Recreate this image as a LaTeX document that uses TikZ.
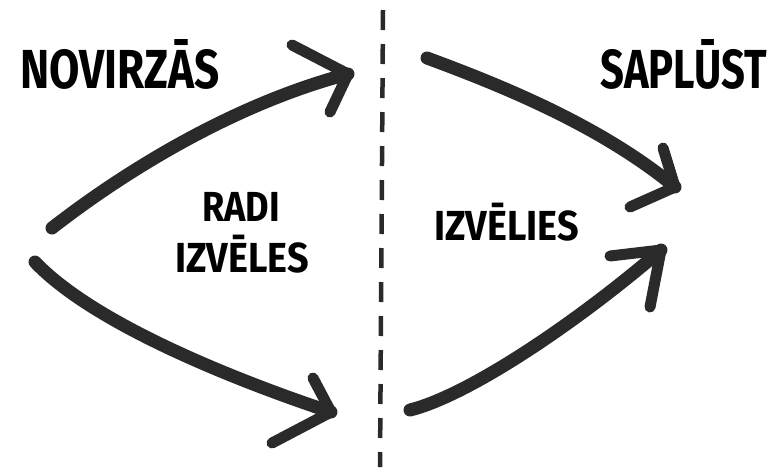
\documentclass[tikz,border=0pt]{standalone}
\usepackage{fontspec}
\setmainfont{Fira Sans}
\definecolor{ink}{HTML}{2A2A2A}
\begin{document}
\begin{tikzpicture}[x=1pt,y=-1pt,
  shaft/.style={draw=ink,line width=13pt,line cap=round},
  barb/.style={draw=ink,line width=11pt,line cap=round,line join=round},
  big/.style={anchor=base west,inner sep=0pt,font=\fontsize{55}{60}\selectfont\bfseries},
  small/.style={anchor=base west,inner sep=0pt,font=\fontsize{42}{48}\selectfont\bfseries},
  divider/.style={draw=ink,line width=4.5pt,dash pattern=on 20pt off 14pt}]
\useasboundingbox (0,0) rectangle (773,467);
% labels
\node[big] (div) at (20,88) {\scalebox{0.8}[1]{NOVIRZĀS}};
\node[big,anchor=base east] (conv) at (767,88) {\scalebox{0.76}[1]{SAPLŪST}};
\node[small] (radi) at (202,221) {\scalebox{0.86}[1]{RADI}};
\node[small] (izv1) at (175,272) {\scalebox{0.9}[1]{IZVĒLES}};
\node[small] (izv2) at (434,240) {\scalebox{0.9}[1]{IZVĒLIES}};
% divider
\coordinate (dtop) at (383,10);
\coordinate (dbot) at (380,467);
\draw[divider] (dtop) -- (dbot);
% arrow 1
\coordinate (a1s) at (52,228);
\coordinate (a1t) at (348,74);
\draw[shaft] (a1s) .. controls (120,175) and (230,105) .. (a1t);
\coordinate (a1b1) at (292,45);
\coordinate (a1b2) at (330,112);
\draw[barb] (a1b1) -- (a1t) -- (a1b2);
% arrow 2
\coordinate (a2s) at (35,262);
\coordinate (a2t) at (331,412);
\draw[shaft] (a2s) .. controls (90,320) and (220,375) .. (a2t);
\coordinate (a2b1) at (313,378);
\coordinate (a2b2) at (272,443);
\draw[barb] (a2b1) -- (a2t) -- (a2b2);
% arrow 3
\coordinate (a3s) at (427,58);
\coordinate (a3t) at (675,187);
\draw[shaft] (a3s) .. controls (500,85) and (600,125) .. (a3t);
\coordinate (a3b1) at (663,148);
\coordinate (a3b2) at (630,207);
\draw[barb] (a3b1) -- (a3t) -- (a3b2);
% arrow 4
\coordinate (a4s) at (410,410);
\coordinate (a4t) at (661,250);
\draw[shaft] (a4s) .. controls (470,395) and (580,320) .. (a4t);
\coordinate (a4b1) at (610,256);
\coordinate (a4b2) at (650,307);
\draw[barb] (a4b1) -- (a4t) -- (a4b2);
\end{tikzpicture}
\end{document}
